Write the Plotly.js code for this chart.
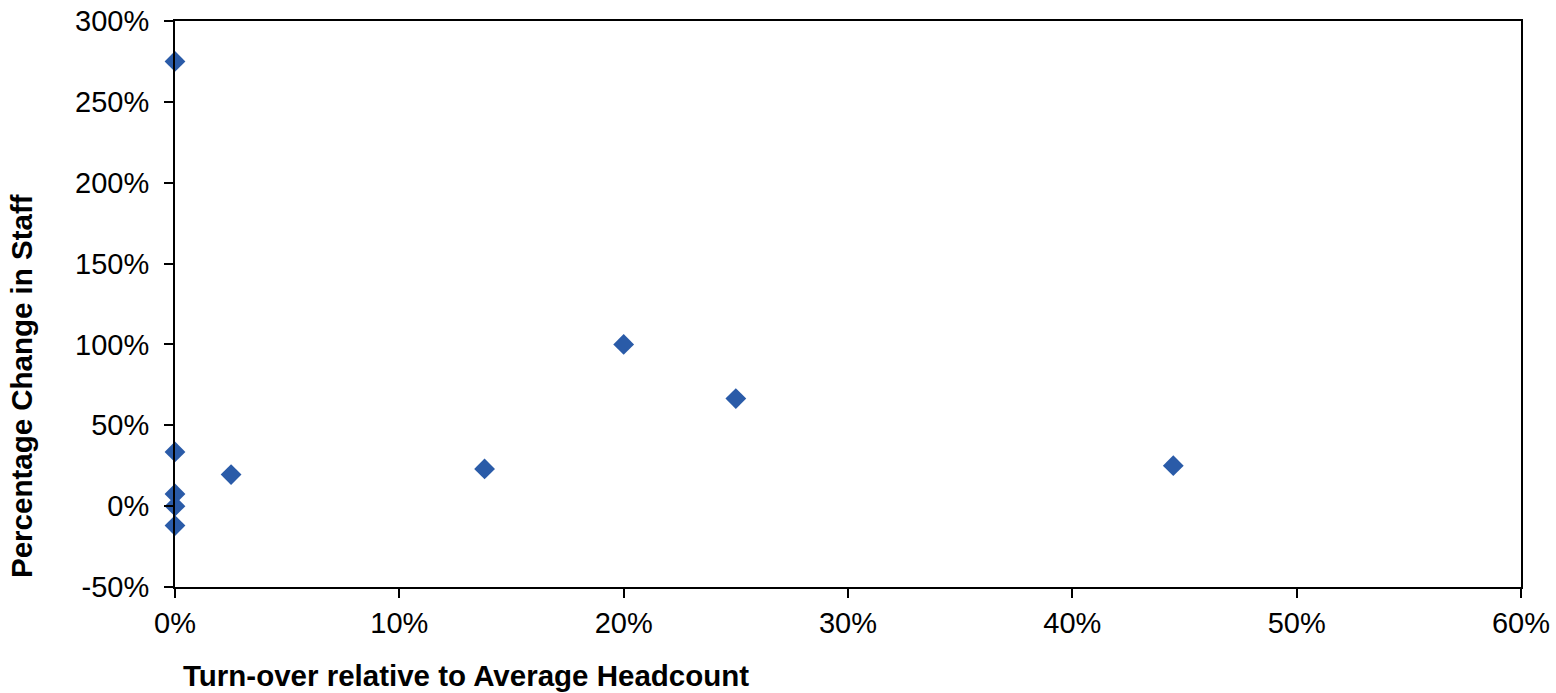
<!DOCTYPE html>
<html>
<head>
<meta charset="utf-8">
<script src="https://cdn.plot.ly/plotly-3.0.1.min.js"></script>
<style>html,body{margin:0;padding:0;background:#fff;}#chart{width:1556px;height:693px;}</style>
</head>
<body>
<div id="chart"></div>
<script>
// Turn-over relative to average headcount (fraction)
var turnover = [0, 0, 0, 0, 0, 0.025, 0.138, 0.20, 0.25, 0.445];
// Percentage change in staff (fraction)
var staffChange = [2.75, 0.335, 0.075, 0.0, -0.12, 0.195, 0.23, 1.0, 0.665, 0.25];

var xTicks = [0, 0.1, 0.2, 0.3, 0.4, 0.5, 0.6];
var xTickLabels = ['0%', '10%', '20%', '30%', '40%', '50%', '60%'];
var yTicks = [-0.5, 0, 0.5, 1.0, 1.5, 2.0, 2.5, 3.0];
var yTickLabels = ['-50%', '0%', '50%', '100%', '150%', '200%', '250%', '300%'];

var xTitle = 'Turn-over relative to Average Headcount';
var yTitle = 'Percentage Change in Staff';

var font = 'Liberation Sans, Arial, sans-serif';

var trace = {
  x: turnover,
  y: staffChange,
  type: 'scatter',
  mode: 'markers',
  marker: {symbol: 'diamond', size: 16, color: '#2A5BA8', line: {width: 0}},
  hoverinfo: 'x+y',
  cliponaxis: false
};

var layout = {
  width: 1556,
  height: 693,
  margin: {l: 175, r: 35, t: 21, b: 106},
  paper_bgcolor: '#ffffff',
  plot_bgcolor: '#ffffff',
  showlegend: false,
  font: {family: font, size: 29, color: '#000000'},
  xaxis: {
    range: [0, 0.6],
    tickvals: xTicks,
    ticktext: xTickLabels,
    ticks: 'outside',
    ticklen: 9,
    tickwidth: 2,
    tickcolor: '#000',
    showline: true,
    linecolor: '#000',
    linewidth: 2,
    mirror: true,
    showgrid: false,
    zeroline: false,
    tickfont: {family: font, size: 29, color: '#000'},
    fixedrange: true
  },
  yaxis: {
    range: [-0.5, 3.0],
    tickvals: yTicks,
    ticktext: yTickLabels,
    ticks: 'outside',
    ticklen: 9,
    tickwidth: 2,
    tickcolor: '#000',
    showline: true,
    linecolor: '#000',
    linewidth: 2,
    mirror: true,
    showgrid: false,
    zeroline: false,
    tickfont: {family: font, size: 29, color: '#000'},
    ticklabelstandoff: 9,
    fixedrange: true
  },
  annotations: [
    {
      text: '<b>' + xTitle + '</b>',
      xref: 'paper', yref: 'paper',
      x: (181 - 175) / 1346, y: -(675 - 587) / 566,
      xanchor: 'left', yanchor: 'middle',
      showarrow: false,
      font: {family: font, size: 29.5, color: '#000'}
    },
    {
      text: '<b>' + yTitle + '</b>',
      xref: 'paper', yref: 'paper',
      x: -(175 - 22) / 1346, y: (587 - 386) / 566,
      xanchor: 'center', yanchor: 'middle',
      textangle: -90,
      showarrow: false,
      font: {family: font, size: 29.5, color: '#000'}
    }
  ]
};

Plotly.newPlot('chart', [trace], layout, {displayModeBar: false, staticPlot: true});
</script>
</body>
</html>
